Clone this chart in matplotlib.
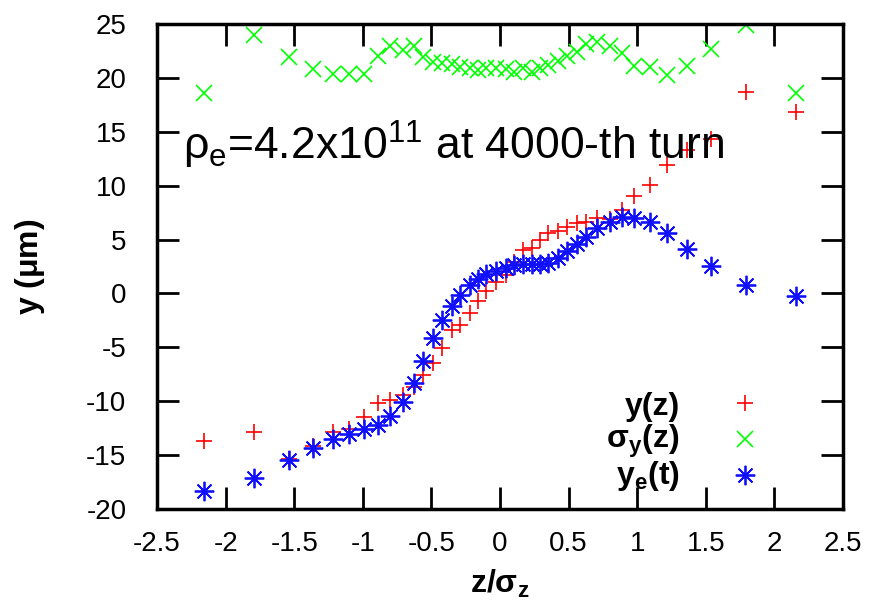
import matplotlib
matplotlib.use("Agg")
import matplotlib.pyplot as plt

plt.rcParams['font.family'] = ['Liberation Sans', 'DejaVu Sans']
plt.rcParams['mathtext.fontset'] = 'custom'
plt.rcParams['mathtext.rm'] = 'Liberation Sans'
plt.rcParams['mathtext.it'] = 'Liberation Sans:italic'
plt.rcParams['mathtext.bf'] = 'Liberation Sans:bold'
plt.rcParams['axes.unicode_minus'] = False

# longitudinal position of the slices (z / sigma_z)
z = [-2.16, -1.79, -1.54, -1.36, -1.22, -1.10, -0.99, -0.89, -0.80, -0.71,
     -0.63, -0.56, -0.49, -0.42, -0.35, -0.29, -0.22, -0.16, -0.10, -0.03,
     0.04, 0.10, 0.17, 0.23, 0.29, 0.35, 0.42, 0.49, 0.56, 0.63,
     0.71, 0.80, 0.89, 0.98, 1.09, 1.22, 1.36, 1.54, 1.79, 2.16]

# beam centroid y(z)
y_z = [-13.7, -12.9, -15.4, -14.2, -12.9, -12.6, -11.5, -10.2, -9.9, -9.4,
       -8.7, -7.6, -6.5, -5.1, -3.4, -2.9, -1.8, -0.7, 0.2, 1.1,
       1.7, 2.9, 4.0, 4.2, 5.0, 5.6, 5.8, 6.2, 6.5, 6.6,
       7.0, 6.9, 7.7, 9.0, 10.1, 11.9, 13.3, 14.3, 18.7, 16.8]

# beam size sigma_y(z)
sig_y = [18.6, 24.0, 21.9, 20.8, 20.4, 20.4, 20.4, 22.0, 23.0, 22.6,
         23.0, 21.9, 21.5, 21.4, 21.3, 21.0, 20.9, 20.7, 20.9, 20.9,
         20.8, 20.5, 20.9, 20.5, 20.9, 21.2, 21.6, 22.0, 22.4, 23.1,
         23.3, 23.0, 22.3, 21.1, 21.0, 20.3, 21.1, 22.7, 24.9, 18.6]

# electron cloud centroid y_e(t)
y_e = [-18.3, -17.1, -15.5, -14.3, -13.5, -13.0, -12.6, -12.2, -11.4, -10.1,
       -8.3, -6.3, -4.1, -2.5, -1.2, -0.1, 0.8, 1.3, 1.8, 2.1,
       2.4, 2.6, 2.7, 2.7, 2.7, 2.8, 3.3, 3.9, 4.6, 5.2,
       6.1, 6.6, 7.1, 7.0, 6.6, 5.6, 4.1, 2.5, 0.8, -0.2]

series_labels = ['y(z)', r'$\mathbf{\sigma_y}$(z)', r'y$_\mathbf{e}$(t)']

xticks = [-2.5, -2, -1.5, -1, -0.5, 0, 0.5, 1, 1.5, 2, 2.5]
xtick_labels = ['-2.5', '-2', '-1.5', '-1', '-0.5', '0', '0.5', '1', '1.5', '2', '2.5']
yticks = [-20, -15, -10, -5, 0, 5, 10, 15, 20, 25]

fig = plt.figure(figsize=(8.8, 6.15), dpi=100)
ax = fig.add_axes([0.1784, 0.1724, 0.7796, 0.7886])

h1, = ax.plot(z, y_z, linestyle='none', marker='+', markersize=12, markeredgewidth=1.2,
              color='#ff0000')
h2, = ax.plot(z, sig_y, linestyle='none', marker='x', markersize=11, markeredgewidth=1.2,
              color='#00ff00')
h3, = ax.plot(z, y_e, linestyle='none', marker=(8, 2, 0), markersize=14, markeredgewidth=1.3,
              color='#1010ff')

ax.set_xlim(-2.5, 2.5)
ax.set_ylim(-20, 25)
ax.set_xticks(xticks)
ax.set_xticklabels(xtick_labels)
ax.set_yticks(yticks)
ax.tick_params(direction='in', length=16, width=2, top=True, right=True, labelsize=20)
ax.tick_params(axis='x', pad=16)
ax.tick_params(axis='y', pad=22)
for s in ax.spines.values():
    s.set_linewidth(2.5)

ax.set_xlabel(r'z/$\mathbf{\sigma_z}$', fontsize=23, fontweight='bold', labelpad=8)
ax.set_ylabel(r'y ($\mathbf{\mu}$m)', fontsize=23, fontweight='bold', labelpad=28)

ax.text(0.038, 0.72, r'ρ$_\mathregular{e}$=4.2x10$^\mathregular{11}$ at 4000-th turn',
        transform=ax.transAxes, fontsize=32, ha='left', va='baseline')

# gnuplot-style key: right-aligned labels, markers to their right
leg = ax.legend([h1, h2, h3], [' ', ' ', ' '], loc='center', frameon=False,
                prop={'weight': 'bold', 'size': 23}, handletextpad=0.0,
                handlelength=1.0, labelspacing=0.18, borderpad=0.0,
                bbox_to_anchor=(0.864, 0.138))
for lab, yy in zip(series_labels, [0.211, 0.139, 0.067]):
    ax.text(0.762, yy, lab, transform=ax.transAxes, ha='right', va='center',
            fontsize=23, fontweight='bold')

fig.savefig('out.png', dpi=100)
